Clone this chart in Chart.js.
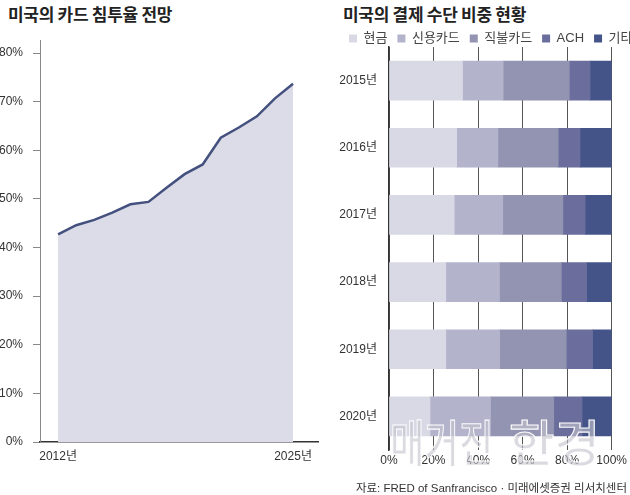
<!DOCTYPE html>
<html>
<head>
<meta charset="utf-8">
<script src="https://cdn.jsdelivr.net/npm/chart.js@4.4.1/dist/chart.umd.min.js"></script>
<style>
  html, body { margin: 0; padding: 0; background: #fff; }
  body { width: 630px; height: 495px; position: relative; overflow: hidden;
         font-family: 'Liberation Sans', 'Noto Sans CJK KR', sans-serif; }
  #left { position: absolute; left: 0; top: 0; width: 330px; height: 475px; }
  #right { position: absolute; left: 330px; top: 0; width: 300px; height: 475px; }
  .title { position: absolute; top: 1px; font-weight: bold; font-size: 17px; color: #222;
           font-family: 'Noto Sans CJK KR', sans-serif; letter-spacing: -0.3px; white-space: nowrap; }
  #src { position: absolute; right: 3px; top: 479px; font-size: 11.5px; color: #333;
         font-family: 'Liberation Sans', 'Noto Sans CJK KR', sans-serif; white-space: nowrap; }
  .wm { position: absolute; top: 415px; font-size: 50px; line-height: 50px; font-weight: 500;
        color: rgba(195,195,205,0.62); -webkit-text-stroke: 1.2px rgba(255,255,255,0.95);
        font-family: 'Noto Sans CJK KR', sans-serif; white-space: nowrap; pointer-events: none;
        transform-origin: left top; }
</style>
</head>
<body>
<div class="title" style="left:8px;">미국의 카드 침투율 전망</div>
<div class="title" style="left:343px;">미국의 결제 수단 비중 현황</div>
<canvas id="left" width="330" height="475"></canvas>
<canvas id="right" width="300" height="475"></canvas>
<div class="wm" style="left:390px; transform: scaleX(0.75);">매거진</div>
<div class="wm" style="left:509px; transform: scaleX(0.99);">한경</div>
<div id="src">자료: FRED of Sanfrancisco · 미래에셋증권 리서치센터</div>
<script>
// ---------- data ----------
const penetrationYears = [2012, 2013, 2014, 2015, 2016, 2017, 2018, 2019, 2020, 2021, 2022, 2023, 2024, 2025];
const penetration = [42.7, 44.6, 45.7, 47.2, 48.9, 49.4, 52.3, 55.1, 57.1, 62.6, 64.7, 67.0, 70.7, 73.7];
const penetrationTickYears = [2012, 2025];
const penetrationTicks = [0, 10, 20, 30, 40, 50, 60, 70, 80];

const paymentYears = ['2015년', '2016년', '2017년', '2018년', '2019년', '2020년'];
const seriesNames = ['현금', '신용카드', '직불카드', 'ACH', '기타'];
const cash   = [33.0, 30.4, 29.3, 25.5, 25.5, 18.4];
const credit = [18.3, 18.5, 21.8, 24.1, 24.2, 27.2];
const debit  = [29.7, 27.1, 27.0, 27.8, 29.9, 28.4];
const ach    = [9.3, 9.8, 10.0, 11.3, 11.8, 12.7];
const other  = [9.7, 14.2, 11.9, 11.3, 8.6, 13.3];
const shareTicks = [0, 20, 40, 60, 80, 100];

// ---------- styles ----------
const FONT = "'Liberation Sans', 'Noto Sans CJK KR', sans-serif";
const NARROW = "'Liberation Sans Narrow', 'Liberation Sans', 'Noto Sans CJK KR', sans-serif";
const segColors = ['#d9d9e6', '#b3b3cc', '#9393b2', '#6b6e9c', '#445489'];

Chart.defaults.animation = false;
Chart.defaults.devicePixelRatio = 1;

// ---------- left chart ----------
new Chart(document.getElementById('left'), {
  type: 'line',
  data: {
    datasets: [{
      data: penetrationYears.map((y, i) => ({ x: y, y: penetration[i] })),
      borderColor: '#44507e',
      borderWidth: 2.5,
      backgroundColor: '#dcdce8',
      fill: 'origin',
      pointRadius: 0,
      tension: 0
    }]
  },
  options: {
    responsive: false,
    layout: { padding: { top: 40, right: 12, left: 0, bottom: 0 } },
    plugins: { legend: { display: false }, tooltip: { enabled: false } },
    scales: {
      x: {
        type: 'linear',
        min: 2011.0,
        max: 2026.38,
        afterBuildTicks: s => { s.ticks = penetrationTickYears.map(v => ({ value: v })); },
        afterFit: s => { s.height = 33; },
        ticks: {
          callback: v => v + '년',
          font: { family: NARROW, size: 12 },
          color: '#333',
          padding: 7,
          maxRotation: 0,
          autoSkip: false
        },
        grid: { display: false, drawTicks: false },
        border: { display: true, color: '#333', width: 1.5 }
      },
      y: {
        min: 0,
        max: 82.7,
        afterBuildTicks: s => { s.ticks = penetrationTicks.map(v => ({ value: v })); },
        afterFit: s => { s.width = 40; },
        ticks: {
          callback: v => v + '%',
          font: { family: FONT, size: 12 },
          color: '#333',
          padding: 10
        },
        grid: { display: true, drawOnChartArea: false, drawTicks: true, tickLength: 7, color: '#888' },
        border: { display: true, color: '#888', width: 1 }
      }
    }
  }
});

// ---------- right chart ----------
const legendPlacement = {
  id: 'legendPlacement',
  beforeLayout(chart) {
    const lg = chart.legend;
    if (lg && !lg._patched) {
      const orig = lg.fit.bind(lg);
      lg.fit = function () {
        const mw = this.maxWidth;
        this.maxWidth = 400;
        orig();
        this.maxWidth = mw;
        this.width = Math.min(this.width, mw);
        this.height -= 8;
      };
      lg._patched = true;
    }
  },
  afterLayout(chart) {
    if (chart.legend) {
      chart.legend.left = 9;
      chart.legend.right = 400;
    }
  }
};

const seriesValues = [cash, credit, debit, ach, other];
new Chart(document.getElementById('right'), {
  type: 'bar',
  data: {
    labels: paymentYears,
    datasets: seriesNames.map((name, i) => ({
      label: name,
      data: seriesValues[i],
      backgroundColor: segColors[i],
      borderWidth: 0,
      barThickness: 39
    }))
  },
  plugins: [legendPlacement],
  options: {
    responsive: false,
    indexAxis: 'y',
    layout: { padding: { top: 22, right: 18, left: 0, bottom: 0 } },
    plugins: {
      tooltip: { enabled: false },
      legend: {
        display: true,
        position: 'top',
        align: 'start',
        labels: {
          boxWidth: 8,
          boxHeight: 8,
          padding: 10,
          color: '#444',
          font: { family: FONT, size: 13 }
        }
      }
    },
    scales: {
      x: {
        stacked: true,
        min: 0,
        max: 100,
        afterBuildTicks: s => { s.ticks = shareTicks.map(v => ({ value: v })); },
        afterFit: s => { s.height = 25; },
        ticks: {
          callback: v => v + '%',
          font: { family: NARROW, size: 12 },
          color: '#333',
          padding: 3,
          maxRotation: 0
        },
        grid: { display: true, drawTicks: false, color: '#555', lineWidth: 1 },
        border: { display: false }
      },
      y: {
        stacked: true,
        afterFit: s => { s.width = 59; },
        ticks: {
          font: { family: NARROW, size: 12 },
          color: '#333',
          padding: 12
        },
        grid: { display: false, drawTicks: false },
        border: { display: true, color: '#333', width: 1.5 }
      }
    }
  }
});
</script>
</body>
</html>
